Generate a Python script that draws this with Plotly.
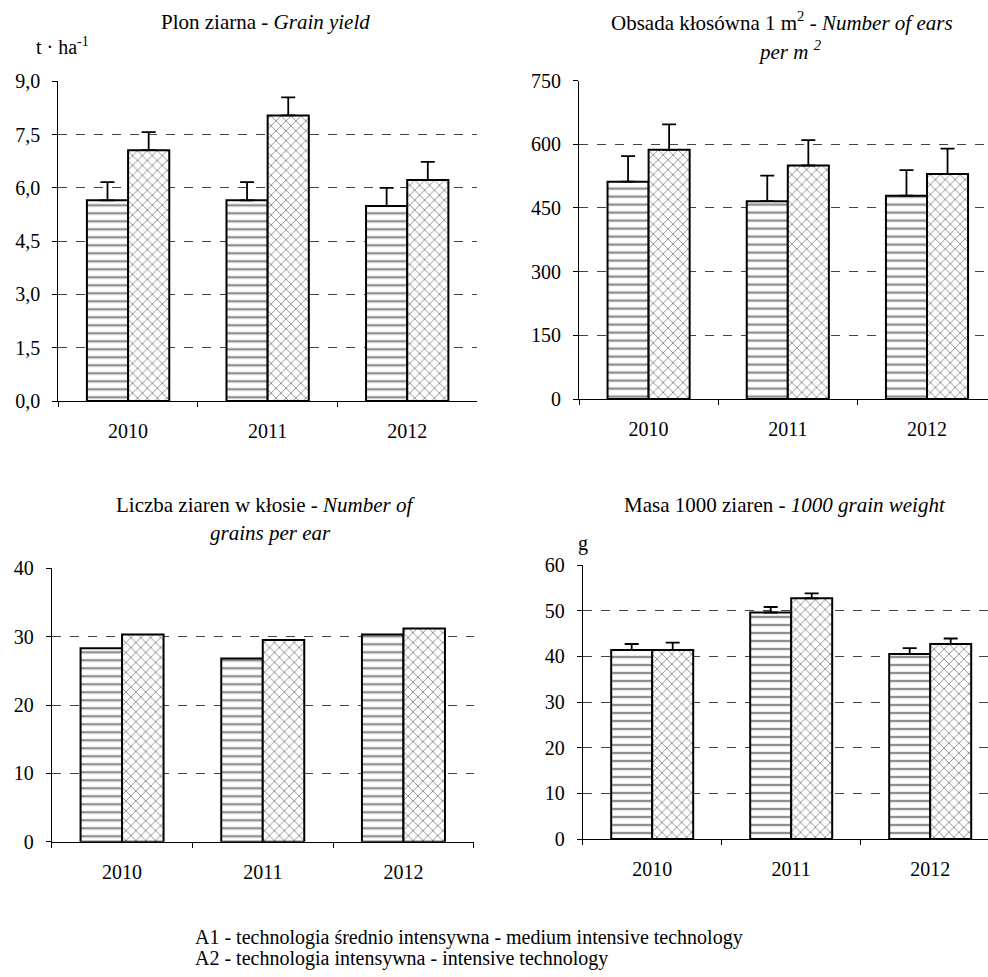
import plotly.graph_objects as go

W, H = 988, 977
years = ["2010", "2011", "2012"]

yield_a1 = [5.65, 5.65, 5.49]
yield_a2 = [7.06, 8.04, 6.22]
yield_err_a1 = [0.51, 0.51, 0.51]
yield_err_a2 = [0.51, 0.51, 0.51]

ears_a1 = [512, 466, 479]
ears_a2 = [587, 550, 530]
ears_err_a1 = [60, 60, 60]
ears_err_a2 = [60, 60, 60]

grains_a1 = [28.3, 26.8, 30.3]
grains_a2 = [30.3, 29.5, 31.2]

tgw_a1 = [41.4, 49.6, 40.5]
tgw_a2 = [41.4, 52.7, 42.7]
tgw_err_a1 = [1.3, 1.2, 1.3]
tgw_err_a2 = [1.6, 1.1, 1.2]

FONT = "Liberation Serif, Times New Roman, serif"
FS = 20


def px(x):
    return x / W


def py(y):
    return 1 - y / H


fig = go.Figure()


def add_pair(a1, a2, xa, ya, e1=None, e2=None):
    for vals, err, shape, name in [(a1, e1, "-", "A1"), (a2, e2, "x", "A2")]:
        kw = {}
        if err is not None:
            kw["error_y"] = dict(type="data", array=err, arrayminus=[0] * len(err),
                                 symmetric=False, color="black", thickness=1.8, width=7)
        fig.add_trace(go.Bar(
            x=years, y=vals, name=name, xaxis=xa, yaxis=ya, showlegend=False,
            marker=dict(color="white", line=dict(color="black", width=2),
                        pattern=dict(shape=shape, fgcolor="#222222", bgcolor="white",
                                     size=7 if shape == "x" else 8,
                                     solidity=0.3 if shape == "-" else 0.25)),
            **kw))


add_pair(yield_a1, yield_a2, "x", "y", yield_err_a1, yield_err_a2)
add_pair(ears_a1, ears_a2, "x2", "y2", ears_err_a1, ears_err_a2)
add_pair(grains_a1, grains_a2, "x3", "y3")
add_pair(tgw_a1, tgw_a2, "x4", "y4", tgw_err_a1, tgw_err_a2)

xcommon = dict(type="category", showline=True, linecolor="black", linewidth=1,
               ticks="outside", tickson="boundaries", ticklen=5, tickcolor="black",
               showgrid=False, tickfont=dict(family=FONT, size=FS, color="black"),
               fixedrange=True, automargin=False, ticklabelstandoff=12)
ycommon = dict(showline=True, linecolor="black", linewidth=1, ticks="outside",
               ticklen=5, tickcolor="black", showgrid=True, gridcolor="#444444",
               griddash="dash", gridwidth=1, zeroline=False, automargin=False,
               ticklabelstandoff=8,
               tickfont=dict(family=FONT, size=FS, color="black"))

fig.update_layout(
    width=W, height=H, margin=dict(l=0, r=0, t=0, b=0),
    paper_bgcolor="white", plot_bgcolor="white",
    separators=", ", barmode="group", bargap=0.41, bargroupgap=0,
    font=dict(family=FONT, size=FS, color="black"),
    xaxis=dict(xcommon, domain=[px(58.3), px(477)], anchor="y", range=[-0.5, 2.5]),
    yaxis=dict(ycommon, domain=[py(401), py(81.3)], anchor="x", range=[0, 9],
               tickvals=[0, 1.5, 3, 4.5, 6, 7.5, 9], tickformat=".1f"),
    xaxis2=dict(xcommon, domain=[px(579), 1.0], anchor="y2",
                range=[-0.5, (W - 579) / 139.2 - 0.5]),
    yaxis2=dict(ycommon, domain=[py(399), py(80.6)], anchor="x2", range=[0, 750],
                tickvals=[0, 150, 300, 450, 600, 750]),
    xaxis3=dict(xcommon, domain=[px(51.7), px(473.8)], anchor="y3", range=[-0.5, 2.5]),
    yaxis3=dict(ycommon, domain=[py(841.7), py(568.3)], anchor="x3", range=[0, 40],
                tickvals=[0, 10, 20, 30, 40]),
    xaxis4=dict(xcommon, domain=[px(582.7), 1.0], anchor="y4",
                range=[-0.5, (W - 582.7) / 139 - 0.5]),
    yaxis4=dict(ycommon, domain=[py(839), py(565)], anchor="x4", range=[0, 60],
                tickvals=[0, 10, 20, 30, 40, 50, 60]),
)


def note(text, x, y, xanchor="center", size=FS):
    fig.add_annotation(text=text, x=px(x), y=py(y), xref="paper", yref="paper",
                       xanchor=xanchor, yanchor="middle", showarrow=False,
                       font=dict(family=FONT, size=size, color="black"), align="center")


note("Plon ziarna - <i>Grain yield</i>", 265, 22, size=21)
note("t · ha<sup>-1</sup>", 34, 46, xanchor="left")
note("Obsada kłosówna 1 m<sup>2</sup> - <i>Number of ears</i>", 782, 22, size=21)
note("<i>per m <sup>2</sup></i>", 790, 50, size=21)
note("Liczba ziaren w kłosie - <i>Number of</i>", 265, 505, size=21)
note("<i>grains per ear</i>", 270, 533, size=21)
note("Masa 1000 ziaren - <i>1000 grain weight</i>", 785, 505, size=21)
note("g", 583, 543, xanchor="center")
note("A1 - technologia średnio intensywna - medium intensive technology", 193, 937, xanchor="left")
note("A2 - technologia intensywna - intensive technology", 193, 958, xanchor="left")

fig.write_html("out.html", config={"displayModeBar": False},
               post_script="document.body.style.margin='0';")
